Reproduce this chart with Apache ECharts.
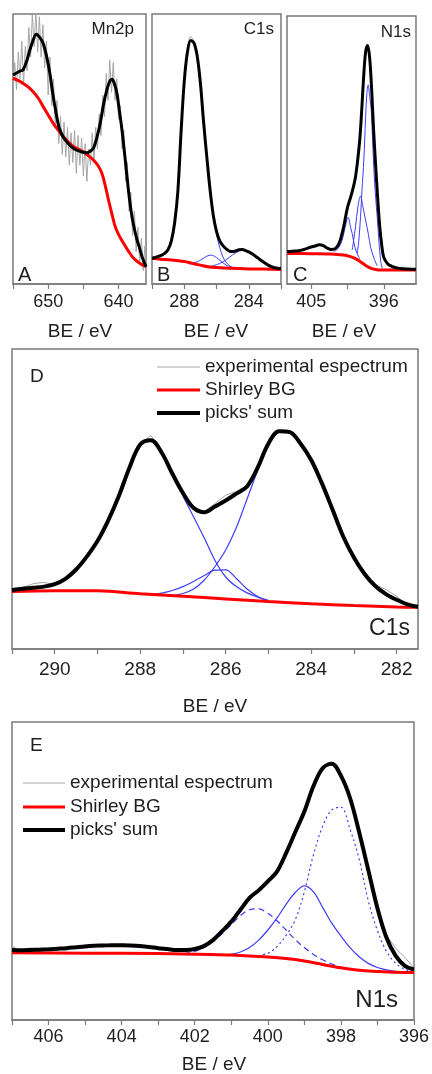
<!DOCTYPE html>
<html>
<head>
<meta charset="utf-8">
<script src="https://cdn.jsdelivr.net/npm/echarts@6/dist/echarts.min.js"></script>
<style>
  html, body { margin: 0; padding: 0; background: #fff; }
  #chart { width: 432px; height: 1074px; }
</style>
</head>
<body>
<div id="chart"></div>
<script>
// ---------- XPS spectra: binding energy (eV) vs intensity (arb. units, 0-100 per panel) ----------

// A: Mn2p — experimental spectrum on a 0.25 eV grid starting at 655 eV
const mnGridStart = 655, mnGridStep = -0.25;
const mnExperimental = [
  74, 82, 72, 86, 76, 90, 74, 88, 79, 95,
  84, 100, 88, 101, 86, 99, 84, 96, 80, 90,
  70, 84, 66, 76, 58, 68, 52, 62, 48, 60,
  47, 58, 44, 56, 45, 57, 41, 55, 44, 54,
  40, 52, 38, 50, 44, 56, 45, 58, 50, 63,
  55, 70, 62, 78, 68, 83, 71, 82, 68, 76,
  61, 66, 50, 57, 38, 45, 27, 34, 18, 27,
  12, 21, 8, 17, 5, 14, 4
];
const mnSum = [
  [655, 77.4], [654, 78.9], [653.57, 79.3], [653, 83], [652.6, 86.7], [652, 91.3], [651.66, 92.5],
  [651.2, 91.3], [650.71, 89.1], [650.2, 84], [649.76, 78], [649.4, 71.5], [649.04, 65.7],
  [648.6, 59.5], [648.33, 57], [647.8, 54.2], [647.37, 52.7], [646.6, 50.6], [645.94, 49.6],
  [645.2, 48.9], [644.51, 48.6], [643.9, 49.4], [643.57, 50.2], [643.1, 54], [642.61, 59.5],
  [642.1, 67], [641.66, 71.9], [641.3, 74.8], [640.94, 75.8], [640.6, 74.3], [640.23, 70.6],
  [639.9, 64.5], [639.51, 57], [639.15, 48.5], [638.8, 39.7], [638.45, 31.5], [638.09, 24.9],
  [637.7, 19.8], [637.37, 16.3], [637, 13.2], [636.66, 10.1], [636.1, 6.4]
];
const mnShirley = [
  [655, 76.2], [654.3, 75.4], [653.57, 74.3], [652.85, 73], [652.14, 71.2], [651.4, 68.8],
  [650.71, 65.7], [650, 62.6], [649.29, 59.5], [648.57, 57], [647.86, 54.6], [647.14, 52.6],
  [646.43, 50.9], [645.7, 49.9], [645, 49], [644.3, 47.6], [643.57, 45.9], [642.9, 43.8],
  [642.37, 41], [641.9, 36.5], [641.43, 31.1], [640.95, 26], [640.47, 21.2], [639.9, 17.8],
  [639.29, 15.1], [638.6, 12.2], [637.86, 9.5], [637, 7.7], [636.1, 6.4]
];

// B: C1s survey-scale panel
const c1sSmallSum = [
  [290, 9.5], [289.8, 9.8], [289.6, 10.2], [289.4, 10.7], [289.2, 11.4], [289, 12.8], [288.8, 16],
  [288.6, 22.5], [288.4, 34], [288.2, 56], [288, 75], [287.8, 86], [287.6, 90.2], [287.4, 89.3],
  [287.2, 84.5], [287, 74.5], [286.8, 60], [286.6, 47], [286.4, 35], [286.2, 25.5], [286, 19.5],
  [285.8, 16], [285.6, 14.2], [285.4, 13], [285.2, 12.2], [285, 12], [284.8, 12.3], [284.6, 12.7],
  [284.4, 12.8], [284.2, 12.4], [284, 11.9], [283.8, 11.2], [283.6, 10.4], [283.4, 9.5], [283.2, 8.6],
  [283, 7.8], [282.8, 7], [282.6, 6.4], [282.4, 6], [282.2, 5.8], [282, 5.7]
];
const c1sSmallExperimental = [
  [290, 9.7], [289.8, 9.9], [289.6, 10.4], [289.4, 10.8], [289.2, 11.6], [289, 12.9], [288.8, 16.3],
  [288.6, 22.4], [288.4, 34.3], [288.2, 56.2], [288, 75.4], [287.8, 86.8], [287.6, 91.6], [287.4, 90],
  [287.2, 84.8], [287, 74.6], [286.8, 60.2], [286.6, 47.1], [286.4, 35.2], [286.2, 25.4], [286, 19.7],
  [285.8, 16.2], [285.6, 14.3], [285.4, 13.2], [285.2, 12.3], [285, 12.2], [284.8, 12.4], [284.6, 12.9],
  [284.4, 12.9], [284.2, 12.5], [284, 12], [283.8, 11.3], [283.6, 10.5], [283.4, 9.6], [283.2, 8.7],
  [283, 7.9], [282.8, 7.1], [282.6, 6.5], [282.4, 6.1], [282.2, 5.9], [282, 5.8]
];
const c1sSmallShirley = [
  [290, 9.5], [289.5, 9.2], [288.78, 8.9], [288, 8.3], [287.55, 7.7], [287, 7], [286.53, 6.4],
  [286, 6.1], [285.1, 5.8], [284, 5.6], [282, 5.4]
];
const c1sSmallPeaks = [
  [[290, 9.5], [289.6, 10.2], [289.2, 11.4], [289, 12.8], [288.8, 16], [288.6, 22.5], [288.4, 34],
   [288.2, 56], [288, 75], [287.8, 86], [287.6, 90.2], [287.4, 89.3], [287.2, 84.5], [287, 74.5],
   [286.8, 60], [286.6, 47], [286.4, 35], [286.2, 25], [286, 18.5], [285.8, 13.5], [285.6, 10],
   [285.4, 8], [285.2, 6.8], [285, 6.2]],
  [[287.6, 7.7], [287.2, 8.2], [286.9, 9.2], [286.6, 10.3], [286.33, 10.7], [286, 9.8], [285.7, 8.3],
   [285.4, 7], [285.1, 6.2]],
  [[286.6, 6.4], [286.2, 6.8], [285.8, 7.6], [285.4, 9], [285, 10.8], [284.6, 12.2], [284.4, 12.6],
   [284.2, 12.3], [284, 11.8], [283.6, 10.3], [283.2, 8.5], [282.8, 6.9], [282.4, 5.9], [282, 5.5]]
];

// C: N1s survey-scale panel
const n1sSmallSum = [
  [408, 12.1], [407.5, 12.2], [407, 12.3], [406.5, 12.4], [406, 12.8], [405.5, 13.3], [405, 13.8],
  [404.5, 14.2], [404, 14.6], [403.5, 14.3], [403, 13.4], [402.5, 12.9], [402, 13.2], [401.5, 15.5],
  [401, 21], [400.5, 28.5], [400, 33.5], [399.5, 40], [399, 53], [398.75, 64], [398.5, 77],
  [398.25, 86.5], [398, 89], [397.75, 84.5], [397.5, 72.5], [397.25, 57], [397, 44], [396.75, 32],
  [396.5, 21.5], [396.25, 14.5], [396, 10], [395.5, 7.5], [395, 6.6], [394.5, 6.1], [394, 5.8],
  [393, 5.6], [392, 5.5]
];
const n1sSmallExperimental = [
  [408, 12.3], [407.5, 12.0], [407, 12.5], [406.5, 12.3], [406, 13.0], [405.5, 13.2], [405, 14.0],
  [404.5, 14.1], [404, 14.8], [403.5, 14.2], [403, 13.6], [402.5, 12.8], [402, 13.4], [401.5, 15.4],
  [401, 21.2], [400.5, 28.4], [400, 33.7], [399.5, 40.1], [399, 53.2], [398.75, 64.1], [398.5, 77.2],
  [398.25, 86.7], [398, 89.4], [397.75, 84.6], [397.5, 72.6], [397.25, 57.2], [397, 44.1], [396.75, 32.2],
  [396.5, 21.6], [396.25, 14.7], [396, 10.2], [395.5, 7.4], [395, 6.8], [394.5, 6.0], [394, 5.9],
  [393, 5.5], [392, 5.6]
];
const n1sSmallShirley = [
  [408, 11.4], [405, 11.3], [402.6, 11.2], [401, 10.8], [400.13, 10.2], [399.5, 9.5], [398.88, 8.3],
  [398.2, 6.8], [397.64, 5.9], [397, 5.4], [396.4, 5.2], [392, 5.2]
];
const n1sSmallPeaks = [
  [[399.3, 11.4], [399.1, 16], [398.88, 25.1], [398.7, 35], [398.47, 46.3], [398.25, 62], [398.1, 71],
   [397.93, 74.3], [397.75, 70], [397.55, 64.9], [397.23, 43], [397, 32], [396.81, 25.1], [396.6, 16],
   [396.4, 9], [396.2, 6]],
  [[399.91, 12.7], [399.5, 21.4], [399.2, 29], [398.88, 32.8], [398.6, 29], [398.26, 23.9], [397.9, 18.5],
   [397.64, 13.9], [397.2, 9.5], [396.81, 6.8]],
  [[402.2, 12], [401.6, 13.5], [401.16, 16.4], [400.8, 21], [400.42, 24.9], [400.1, 21], [399.92, 18.9],
   [399.6, 14], [399.3, 11.4], [399, 9.5]]
];

// D: C1s high resolution — experimental and sum on a 0.25 eV grid from 291 eV
const c1sGridStart = 291, c1sGridStep = -0.25;
const c1sExperimental = [
  19.5, 20.5, 21.8, 22.2, 21.4, 23.8, 27, 30.5, 36.3, 42.2,
  51.2, 60.2, 68.4, 71.2, 66, 58.2, 52.4, 47.5, 45.8, 48.5,
  51.3, 52.5, 54.5, 60.8, 68.8, 72.8, 72.6, 68.7, 63.2, 55.5,
  46.8, 37.6, 30.3, 25.2, 21.4, 19.8, 17.6, 14.8, 14.0
];
const c1sSum = [
  19.7, 20.1, 20.4, 20.8, 21.6, 23.4, 26.5, 30.8, 36, 42.8,
  51, 60.5, 68.2, 69.6, 65.5, 58.5, 52, 47, 45.6, 47.5,
  49.5, 51.8, 54.2, 60.5, 68.5, 72.6, 72.3, 68.5, 63, 55.3,
  46.5, 37.5, 30.5, 25, 21, 18.3, 16.4, 14.9, 14.1
];
const c1sShirley = [
  [291, 19.2], [290, 19.4], [289, 19.4], [288, 18.4], [287, 17.6], [286, 16.7], [285, 15.8],
  [284, 15.1], [283, 14.5], [282, 14], [281.5, 13.9]
];
const c1sPeaks = [
  [[291, 19.7], [290.75, 20.1], [290.5, 20.4], [290.25, 20.8], [290, 21.6], [289.75, 23.4], [289.5, 26.5],
   [289.25, 30.8], [289, 36], [288.75, 42.8], [288.5, 51], [288.25, 60.5], [288, 68.2], [287.75, 69.6],
   [287.5, 65.5], [287.25, 58.5], [287, 51], [286.75, 44], [286.5, 37], [286.25, 29.5], [286, 24],
   [285.75, 20.8], [285.5, 18.7], [285.25, 17.3], [285, 16.2]],
  [[287.25, 17.8], [287, 18.5], [286.75, 20], [286.5, 23], [286.25, 27.5], [286, 33], [285.75, 40.5],
   [285.5, 50], [285.25, 59.5], [285, 67.5], [284.75, 72.6], [284.5, 72.3], [284.25, 68.5], [284, 63],
   [283.75, 55.3], [283.5, 46.5], [283.25, 37.5], [283, 30.5], [282.75, 25], [282.5, 21], [282.25, 18.3],
   [282, 16.4], [281.75, 14.9], [281.5, 14.1]],
  [[287.75, 18], [287.5, 18.6], [287.25, 19.5], [287, 20.8], [286.75, 22.5], [286.5, 24.5], [286.25, 26.3],
   [286, 26.4], [285.75, 23.5], [285.5, 20], [285.25, 17.5], [285, 16]]
];

// E: N1s high resolution — experimental and sum on a 0.25 eV grid from 407 eV
const n1sGridStart = 407, n1sGridStep = -0.25;
const n1sExperimental = [
  24.8, 23.2, 24.2, 23.3, 24.3, 23.7, 24.6, 24.3, 25.2, 24.7,
  25.4, 25.0, 25.5, 25.2, 25.1, 24.4, 24.4, 23.6, 23.8, 23.3,
  24.2, 25.0, 27.2, 29.6, 33.3, 37.2, 41.0, 43.7, 46.4, 49.9,
  56.1, 62.9, 70.2, 78.4, 84.6, 86.2, 82.1, 74.4, 63.1, 50.5,
  38.0, 28.5, 24.0, 21.0, 17.5
];
const n1sSum = [
  23.5, 23.4, 23.5, 23.6, 23.7, 23.9, 24.1, 24.4, 24.7, 24.9,
  25.0, 25.1, 25.1, 25.0, 24.8, 24.5, 24.1, 23.8, 23.5, 23.5,
  23.8, 24.8, 26.8, 29.8, 33, 37, 41, 43.5, 46.5, 49.8,
  56, 63, 70, 78.5, 84.5, 86, 82, 74.5, 63, 50.3,
  37.5, 27.5, 21.5, 18.2, 17
];
const n1sShirley = [
  [407, 22.6], [405, 22.4], [403, 22.3], [401.6, 22.0], [401, 21.8], [400.25, 21.3], [399.5, 20.6],
  [399, 19.8], [398.5, 18.6], [398, 17.5], [397.5, 16.7], [397, 16.3], [396.5, 16.0], [396, 15.9]
];
const n1sPeakDashed = [
  [402.3, 22.2], [402, 23], [401.75, 24.3], [401.5, 26.3], [401.25, 29], [401, 32], [400.75, 35],
  [400.5, 37], [400.25, 37.3], [400, 35.8], [399.75, 33.3], [399.5, 30.2], [399.25, 27], [399, 24.3],
  [398.75, 22], [398.5, 20.2], [398.25, 18.8], [398, 17.8]
];
const n1sPeakSolid = [
  [401.2, 21.8], [401, 22], [400.75, 22.8], [400.5, 24.3], [400.25, 26.8], [400, 30.2], [399.75, 34.2],
  [399.5, 38.8], [399.25, 42.8], [399, 45], [398.75, 43], [398.5, 37.8], [398.25, 32.5], [398, 28.2],
  [397.75, 24.3], [397.5, 21.2], [397.25, 19], [397, 17.6], [396.75, 16.8], [396.5, 16.3]
];
const n1sPeakDotted = [
  [400.4, 21.4], [400, 22.4], [399.75, 24.6], [399.5, 28.4], [399.25, 33.6], [399, 43], [398.75, 55.5],
  [398.5, 65], [398.25, 70.5], [398, 71.4], [397.75, 64], [397.5, 54], [397.25, 40], [397, 30],
  [396.75, 23], [396.5, 19], [396.25, 17], [396, 16.2]
];

// Axis ticks and labels
const mnTicks = [655, 650, 645, 640], mnLabels = [650, 640];
const c1sSmallTicks = [290, 288, 286, 284, 282], c1sSmallLabels = [288, 284];
const n1sSmallTicks = [405, 400.5, 396], n1sSmallLabels = [405, 396];
const c1sTicks = [291, 290, 289, 288, 287, 286, 285, 284, 283, 282], c1sLabels = [290, 288, 286, 284, 282];
const n1sTicks = [407, 406, 405, 404, 403, 402, 401, 400, 399, 398, 397, 396], n1sLabels = [406, 404, 402, 400, 398, 396];

const legendNames = ['experimental espectrum', 'Shirley BG', "picks' sum"];
const axisTitle = 'BE / eV';

// ---------- rendering ----------
const FONT = '"Liberation Sans", Arial, sans-serif';
const TXT = '#1e1e1e';
const FRAME = '#7a7a7a';
const GRAY = '#a6a6a6', RED = '#ff0000', BLACK = '#000000', BLUE = '#3d3dfa';

function onGrid(start, step, values) {
  return values.map((v, i) => [start + i * step, v]);
}

const grids = [
  { left: 13, top: 14, width: 133, height: 270 },
  { left: 152, top: 14, width: 129, height: 270 },
  { left: 287, top: 16, width: 129, height: 268 },
  { left: 12, top: 349, width: 406, height: 300 },
  { left: 12, top: 722, width: 403, height: 298 }
].map(g => Object.assign({ show: true, borderColor: FRAME, borderWidth: 1.5, backgroundColor: '#fff' }, g));

function xAxis(idx, min, max, ticks, labels, fontSize, margin) {
  return {
    type: 'value', gridIndex: idx, inverse: true, min: min, max: max,
    axisLine: { show: true, lineStyle: { color: FRAME, width: 1.5 } },
    axisTick: { show: true, inside: false, length: 5, customValues: ticks, lineStyle: { color: FRAME, width: 1.2 } },
    axisLabel: { customValues: labels, fontSize: fontSize, margin: margin, color: TXT, fontFamily: FONT },
    splitLine: { show: false }
  };
}

const xAxes = [
  xAxis(0, 636.1, 655, mnTicks, mnLabels, 18, 9),
  xAxis(1, 282, 290, c1sSmallTicks, c1sSmallLabels, 18, 9),
  xAxis(2, 392, 408, n1sSmallTicks, n1sSmallLabels, 18, 9),
  xAxis(3, 281.5, 291, c1sTicks, c1sLabels, 19, 11),
  xAxis(4, 396, 407, n1sTicks, n1sLabels, 18, 8)
];
const yAxes = [0, 1, 2, 3, 4].map(i => ({ type: 'value', gridIndex: i, min: 0, max: 100, show: false }));

function line(name, idx, data, color, width, opts) {
  return Object.assign({
    type: 'line', name: name, xAxisIndex: idx, yAxisIndex: idx, data: data,
    symbol: 'none', showSymbol: false, smooth: false, silent: true, animation: false,
    lineStyle: { color: color, width: width }, itemStyle: { color: color }
  }, opts || {});
}
const smooth = { smooth: 0.35 };

const series = [];
// A
series.push(line(legendNames[0], 0, onGrid(mnGridStart, mnGridStep, mnExperimental), GRAY, 1, { z: 1 }));
series.push(line(legendNames[1], 0, mnShirley, RED, 3, Object.assign({ z: 3 }, smooth)));
series.push(line(legendNames[2], 0, mnSum, BLACK, 3, Object.assign({ z: 4 }, smooth)));
// B
series.push(line(legendNames[0], 1, c1sSmallExperimental, GRAY, 1, Object.assign({ z: 1 }, smooth)));
c1sSmallPeaks.forEach(p => series.push(line('component', 1, p, BLUE, 1, Object.assign({ z: 2 }, smooth))));
series.push(line(legendNames[1], 1, c1sSmallShirley, RED, 3, Object.assign({ z: 3 }, smooth)));
series.push(line(legendNames[2], 1, c1sSmallSum, BLACK, 3, Object.assign({ z: 4 }, smooth)));
// C
series.push(line(legendNames[0], 2, n1sSmallExperimental, GRAY, 1, Object.assign({ z: 1 }, smooth)));
n1sSmallPeaks.forEach(p => series.push(line('component', 2, p, BLUE, 1, Object.assign({ z: 2 }, smooth))));
series.push(line(legendNames[1], 2, n1sSmallShirley, RED, 3, Object.assign({ z: 3 }, smooth)));
series.push(line(legendNames[2], 2, n1sSmallSum, BLACK, 3, Object.assign({ z: 4 }, smooth)));
// D
series.push(line(legendNames[0], 3, onGrid(c1sGridStart, c1sGridStep, c1sExperimental), GRAY, 1, { z: 1 }));
c1sPeaks.forEach(p => series.push(line('component', 3, p, BLUE, 1.2, Object.assign({ z: 2 }, smooth))));
series.push(line(legendNames[1], 3, c1sShirley, RED, 3, Object.assign({ z: 3 }, smooth)));
series.push(line(legendNames[2], 3, onGrid(c1sGridStart, c1sGridStep, c1sSum), BLACK, 4, Object.assign({ z: 4 }, smooth)));
// E
series.push(line(legendNames[0], 4, onGrid(n1sGridStart, n1sGridStep, n1sExperimental), GRAY, 1, { z: 1 }));
series.push(line('component', 4, n1sPeakDashed, BLUE, 1.2, Object.assign({ z: 2 }, smooth, { lineStyle: { color: BLUE, width: 1.2, type: [6, 4] } })));
series.push(line('component', 4, n1sPeakSolid, BLUE, 1.2, Object.assign({ z: 2 }, smooth)));
series.push(line('component', 4, n1sPeakDotted, BLUE, 1.2, Object.assign({ z: 2 }, smooth, { lineStyle: { color: BLUE, width: 1.2, type: [2, 3] } })));
series.push(line(legendNames[1], 4, n1sShirley, RED, 3, Object.assign({ z: 3 }, smooth)));
series.push(line(legendNames[2], 4, onGrid(n1sGridStart, n1sGridStep, n1sSum), BLACK, 4, Object.assign({ z: 4 }, smooth)));

// One single-row legend per entry, so each key line keeps its own stroke thickness
const keyThickness = [1, 3, 4];
function legendRow(k, left, centerY, itemWidth) {
  return {
    data: [{ name: legendNames[k], icon: 'rect' }],
    orient: 'vertical', left: left, top: centerY - 10,
    itemWidth: itemWidth, itemHeight: keyThickness[k], itemGap: 0, padding: 0,
    selectedMode: false,
    textStyle: { fontSize: 19, lineHeight: 20, color: TXT, fontFamily: FONT, padding: [0, 0, 0, 0] }
  };
}
const legends = [
  legendRow(0, 157, 367, 43), legendRow(1, 157, 390, 43), legendRow(2, 157, 413, 43),
  legendRow(0, 23, 783, 42), legendRow(1, 23, 807, 42), legendRow(2, 23, 830, 42)
];

function text(str, x, y, size, align) {
  return {
    type: 'text', x: x, y: y, silent: true,
    style: { text: str, fontSize: size, fontFamily: FONT, fill: TXT, textAlign: align || 'left', textVerticalAlign: 'middle', verticalAlign: 'middle' }
  };
}

const graphic = [
  text('Mn2p', 134, 29, 17, 'right'),
  text('C1s', 274, 29, 17, 'right'),
  text('N1s', 411, 32, 17, 'right'),
  text('A', 18, 275, 20),
  text('B', 157, 275, 20),
  text('C', 293, 275, 20),
  text(axisTitle, 80, 332, 19, 'center'),
  text(axisTitle, 216, 332, 19, 'center'),
  text(axisTitle, 344, 332, 19, 'center'),
  text('D', 30, 377, 19),
  text('C1s', 410, 629, 23, 'right'),
  text(axisTitle, 215, 707, 19, 'center'),
  text('E', 30, 746, 19),
  text('N1s', 398, 1000, 24, 'right'),
  text(axisTitle, 214, 1065, 19, 'center')
];

const chart = echarts.init(document.getElementById('chart'), null, { renderer: 'canvas' });
chart.setOption({
  backgroundColor: '#fff',
  animation: false,
  grid: grids,
  xAxis: xAxes,
  yAxis: yAxes,
  legend: legends,
  series: series,
  graphic: graphic
});
</script>
</body>
</html>
